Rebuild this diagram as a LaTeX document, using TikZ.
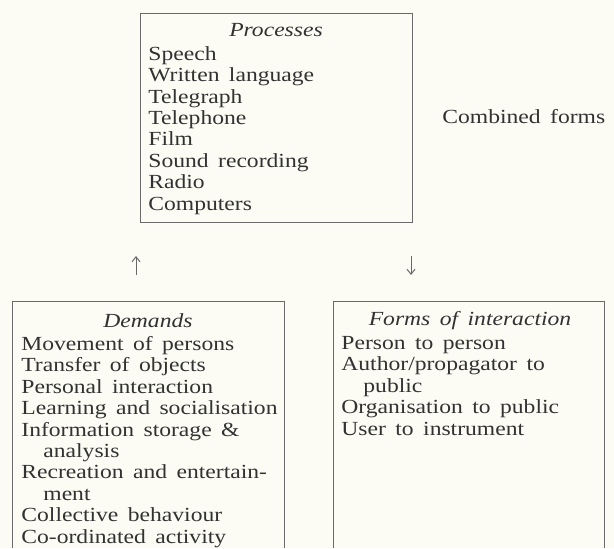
\documentclass[tikz,border=0pt]{standalone}
\usepackage{fontspec}
\setmainfont[FakeStretch=1.18, WordSpace=1.6]{Liberation Serif}
\usetikzlibrary{positioning, arrows.meta}
\definecolor{papel}{RGB}{252, 252, 245}
\definecolor{tinta}{RGB}{50, 50, 50}
\definecolor{marco}{RGB}{105, 105, 105}
\tikzset{
    caja/.style={draw=marco, line width=0.5pt},
    titulo/.style={text=tinta, font=\fontsize{10}{10.7}\selectfont\itshape, inner sep=0pt, anchor=base},
    lista/.style={text=tinta, font=\fontsize{10}{10.7}\selectfont, align=left, inner sep=0pt, anchor=north west},
    suelto/.style={text=tinta, font=\fontsize{10}{10.7}\selectfont, inner sep=0pt, anchor=base west},
    flecha/.style={-{Straight Barb[length=2.5pt, width=4pt]}, marco, line width=0.5pt},
}
\newcommand{\sangria}{\hspace*{1.1em}}

\begin{document}
\begin{tikzpicture}[x=0.5pt, y=-0.5pt]
        \fill[papel] (0,0) rectangle (614,548);
        \useasboundingbox (0,0) rectangle (614,548);

        % processes
        \draw[caja] (140,13) rectangle (412,222);
        \node[titulo] (proc) at (276,36) {Processes};
        \node[lista] (procl) at (148,46) {Speech\\Written language\\Telegraph\\Telephone\\Film\\Sound recording\\Radio\\Computers};

        \node[suelto] (comb) at (442,123) {Combined forms};

        % demands
        \draw[caja] (12,548) -- (12,301) -- (284,301) -- (284,548);
        \node[titulo] (dem) at (148,327) {Demands};
        \node[lista] (deml) at (21,336) {Movement of persons\\Transfer of objects\\Personal interaction\\Learning and socialisation\\Information storage \&\\\sangria analysis\\Recreation and entertain-\\\sangria ment\\Collective behaviour\\Co-ordinated activity};

        % forms of interaction
        \draw[caja] (333,548) -- (333,301) -- (604,301) -- (604,548);
        \node[titulo] (forms) at (470,325) {Forms of interaction};
        \node[lista] (formsl) at (341,336) {Person to person\\Author/propagator to\\\sangria public\\Organisation to public\\User to instrument};

        \coordinate (up1) at (136,275);
        \coordinate (up2) at (136,256);
        \coordinate (dn1) at (411,256);
        \coordinate (dn2) at (411,275);
        \draw[flecha] (up1) -- (up2);
        \draw[flecha] (dn1) -- (dn2);
\end{tikzpicture}
\end{document}
